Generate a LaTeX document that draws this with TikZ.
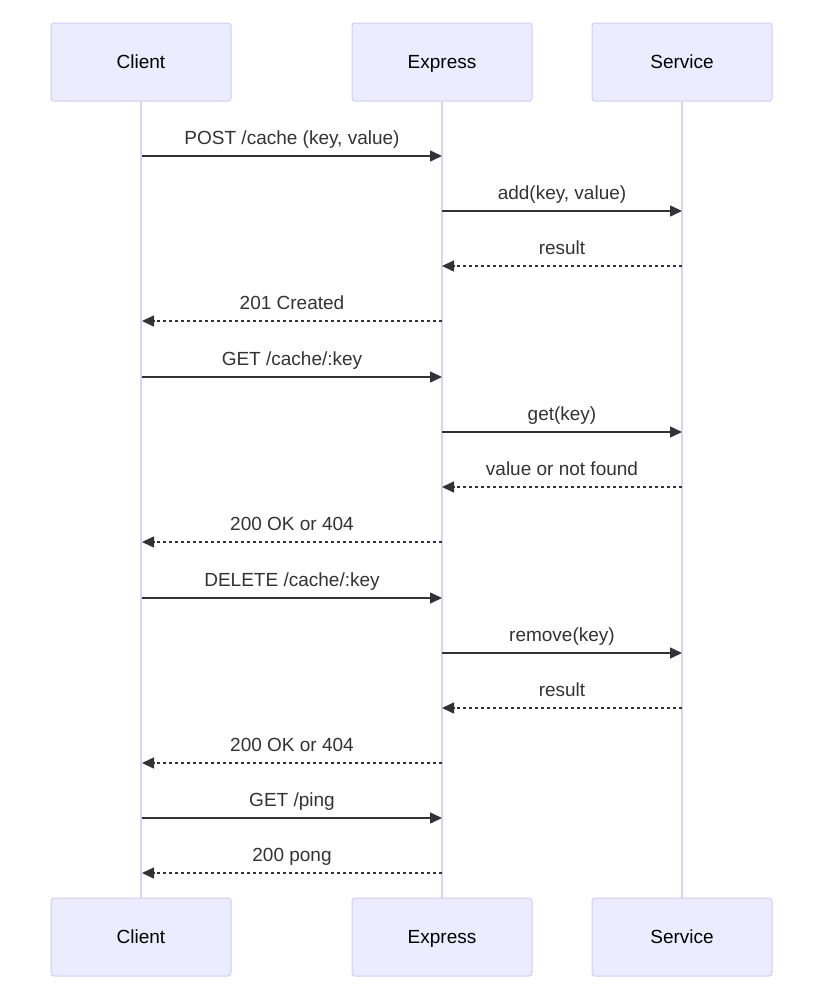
\documentclass[tikz,border=0pt]{standalone}
\usepackage{fontspec}
\setmainfont{Liberation Sans}
\usetikzlibrary{arrows.meta}
\definecolor{actorfill}{HTML}{ECECFF}
\definecolor{actorline}{HTML}{D4CCF2}
\definecolor{lifeline}{HTML}{D9D2F5}
\definecolor{ink}{HTML}{333333}
\tikzset{
  actor/.style={draw=actorline, fill=actorfill, line width=1pt, rounded corners=3pt,
    minimum width=180pt, minimum height=78pt, inner sep=0pt,
    text height=13.5pt, text depth=0pt,
    font=\fontsize{19}{23}\selectfont, text=black},
  life/.style={draw=lifeline, line width=2pt},
  msg/.style={draw=ink, line width=1.5pt, -{Triangle[length=12pt,width=11pt]}},
  reply/.style={msg, dash pattern=on 3pt off 3pt},
  lbl/.style={font=\fontsize{19}{23}\selectfont, text=ink, inner sep=0pt, anchor=base}
}
\begin{document}
\begin{tikzpicture}[x=1pt,y=-1pt]
\useasboundingbox (0,0) rectangle (824,1004);
% participants, top and bottom
\node[actor] (cT) at (141,62) {Client};
\node[actor] (eT) at (442,62) {Express};
\node[actor] (sT) at (682,62) {Service};
\node[actor] (cB) at (141,937) {Client};
\node[actor] (eB) at (442,937) {Express};
\node[actor] (sB) at (682,937) {Service};
% lifelines
\draw[life] (cT.south) -- (cB.north);
\draw[life] (eT.south) -- (eB.north);
\draw[life] (sT.south) -- (sB.north);
% anchor points on each lifeline, one per message row
\foreach \i/\y in {1/156,2/211,3/266,4/321,5/377,6/432,7/487,8/542,9/598,10/653,11/708,12/763,13/818,14/873}{
  \coordinate (c\i) at (142,\y);
  \coordinate (e\i) at (442,\y);
  \coordinate (s\i) at (682,\y);
}
% messages
\draw[msg]   (c1) -- (e1) node[lbl, midway, yshift=12pt] (m1) {POST /cache (key, value)};
\draw[msg]   (e2) -- (s2) node[lbl, midway, yshift=12pt] (m2) {add(key, value)};
\draw[reply] (s3) -- (e3) node[lbl, midway, yshift=12pt] (m3) {result};
\draw[reply] (e4) -- (c4) node[lbl, midway, yshift=12pt] (m4) {201 Created};
\draw[msg]   (c5) -- (e5) node[lbl, midway, yshift=12pt] (m5) {GET /cache/:key};
\draw[msg]   (e6) -- (s6) node[lbl, midway, yshift=12pt] (m6) {get(key)};
\draw[reply] (s7) -- (e7) node[lbl, midway, yshift=12pt] (m7) {value or not found};
\draw[reply] (e8) -- (c8) node[lbl, midway, yshift=12pt] (m8) {200 OK or 404};
\draw[msg]   (c9) -- (e9) node[lbl, midway, yshift=12pt] (m9) {DELETE /cache/:key};
\draw[msg]   (e10) -- (s10) node[lbl, midway, yshift=12pt] (m10) {remove(key)};
\draw[reply] (s11) -- (e11) node[lbl, midway, yshift=12pt] (m11) {result};
\draw[reply] (e12) -- (c12) node[lbl, midway, yshift=12pt] (m12) {200 OK or 404};
\draw[msg]   (c13) -- (e13) node[lbl, midway, yshift=12pt] (m13) {GET /ping};
\draw[reply] (e14) -- (c14) node[lbl, midway, yshift=12pt] (m14) {200 pong};
\end{tikzpicture}
\end{document}
